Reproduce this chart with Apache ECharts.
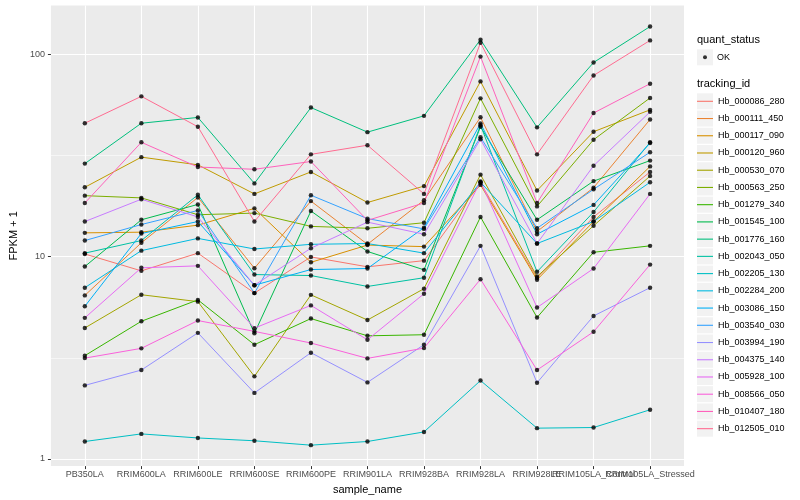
<!DOCTYPE html>
<html><head><meta charset="utf-8">
<script src="https://cdn.jsdelivr.net/npm/echarts@6/dist/echarts.min.js"></script>
<style>html,body{margin:0;padding:0;background:#fff}#c{width:800px;height:500px}</style>
</head><body><div id="c"></div>
<script>
// ---- data ----
const samples = ['PB350LA','RRIM600LA','RRIM600LE','RRIM600SE','RRIM600PE','RRIM901LA','RRIM928BA','RRIM928LA','RRIM928LE','RRIM105LA_Control','RRIM105LA_Stressed'];
const trackingIds = ['Hb_000086_280','Hb_000111_450','Hb_000117_090','Hb_000120_960','Hb_000530_070','Hb_000563_250','Hb_001279_340','Hb_001545_100','Hb_001776_160','Hb_002043_050','Hb_002205_130','Hb_002284_200','Hb_003086_150','Hb_003540_030','Hb_003994_190','Hb_004375_140','Hb_005928_100','Hb_008566_050','Hb_010407_180','Hb_012505_010'];
const quantStatus = ['OK'];
const yTickValues = [1, 10, 100];

const hb_000086_280 = [10.3, 8.50, 10.4, 6.60, 9.96, 8.90, 9.55, 23.1, 7.84, 15.7, 26.2];
const hb_000111_450 = [6.43, 11.7, 19.6, 8.76, 18.8, 11.5, 19.0, 48.8, 13.3, 21.9, 47.6];
const hb_000117_090 = [13.1, 13.2, 14.3, 17.3, 9.37, 11.4, 11.2, 22.6, 7.68, 14.9, 27.9];
const hb_000120_960 = [22.0, 31.0, 28.4, 20.4, 26.2, 18.5, 22.3, 73.4, 21.2, 41.4, 53.1];
const hb_000530_070 = [4.44, 6.48, 5.99, 2.56, 6.47, 4.86, 6.94, 25.4, 7.97, 14.2, 25.0];
const hb_000563_250 = [20.0, 19.5, 16.1, 16.4, 14.1, 13.8, 14.7, 60.5, 17.7, 37.8, 60.8];
const hb_001279_340 = [3.24, 4.79, 6.11, 3.67, 4.94, 4.06, 4.11, 15.7, 5.00, 10.5, 11.3];
const hb_001545_100 = [8.93, 15.2, 18.1, 4.18, 16.8, 10.6, 8.60, 43.8, 15.2, 23.6, 29.8];
const hb_001776_160 = [28.8, 45.6, 48.7, 23.0, 54.5, 41.2, 49.6, 118, 43.5, 91.0, 137];
const hb_002043_050 = [10.4, 12.0, 20.2, 8.15, 8.06, 7.12, 7.86, 44.6, 8.41, 16.6, 36.7];
const hb_002205_130 = [1.22, 1.33, 1.27, 1.23, 1.17, 1.22, 1.36, 2.44, 1.42, 1.43, 1.75];
const hb_002284_200 = [7.02, 10.7, 12.3, 10.9, 11.5, 11.6, 10.4, 23.3, 11.6, 14.9, 23.3];
const hb_003086_150 = [5.68, 13.0, 14.9, 7.22, 8.63, 8.73, 13.9, 45.5, 12.9, 18.0, 36.4];
const hb_003540_030 = [12.0, 14.4, 16.9, 6.60, 20.1, 15.4, 13.7, 38.9, 13.8, 21.5, 32.8];
const hb_003994_190 = [2.31, 2.75, 4.20, 2.12, 3.35, 2.39, 3.67, 11.3, 2.38, 5.09, 7.02];
const hb_004375_140 = [14.9, 19.2, 15.7, 7.22, 11.0, 14.8, 12.9, 38.0, 11.6, 28.1, 51.9];
const hb_005928_100 = [4.98, 8.80, 9.00, 4.43, 5.74, 3.88, 6.55, 23.5, 5.60, 8.73, 20.4];
const hb_008566_050 = [3.15, 3.52, 4.83, 4.27, 3.74, 3.14, 3.53, 7.73, 2.75, 4.25, 9.13];
const hb_010407_180 = [18.4, 36.7, 27.7, 27.0, 29.5, 15.1, 18.4, 97.3, 18.4, 51.2, 71.5];
const hb_012505_010 = [45.6, 61.9, 43.8, 14.9, 32.0, 35.5, 20.4, 114, 32.0, 78.5, 117];

const seriesValues = [hb_000086_280, hb_000111_450, hb_000117_090, hb_000120_960, hb_000530_070, hb_000563_250, hb_001279_340, hb_001545_100, hb_001776_160, hb_002043_050, hb_002205_130, hb_002284_200, hb_003086_150, hb_003540_030, hb_003994_190, hb_004375_140, hb_005928_100, hb_008566_050, hb_010407_180, hb_012505_010];

// ---- style ----
const palette = ['#F8766D','#EA8331','#D89000','#C09B00','#A3A500','#7CAE00','#39B600','#00BB4E','#00BF7D','#00C1A3','#00BFC4','#00BAE0','#00B0F6','#35A2FF','#9590FF','#C77CFF','#E76BF3','#FA62DB','#FF62BC','#FF6C91'];
const FONT = 'Liberation Sans, Arial, Helvetica, sans-serif';

// log10 transform (ggplot scale_y_log10 style)
const lg = v => Math.log10(v);
const allVals = seriesValues.flat();
const lo = lg(Math.min(...allVals)), hi = lg(Math.max(...allVals));
const pad = (hi - lo) * 0.05;
const yMin = lo - pad, yMax = hi + pad;
const X_EXPAND = 0.6;
const xMin = -X_EXPAND, xMax = samples.length - 1 + X_EXPAND;
const xIdx = samples.map((s, i) => i);
// empty-text sentinels at both ends so ECharts' min/max label overlap rule hides nothing
const xLabelValues = [xMin].concat(xIdx, [xMax]);

const lineSeries = trackingIds.map((id, k) => ({
  name: id, type: 'line', silent: true, symbol: 'none',
  data: seriesValues[k].map((v, i) => [i, lg(v)]),
  lineStyle: { width: 1, color: palette[k] },
  itemStyle: { color: palette[k] },
  z: 2
}));
const pointSeries = {
  name: 'OK', type: 'scatter', silent: true, symbol: 'circle', symbolSize: 4.4,
  data: seriesValues.flatMap(arr => arr.map((v, i) => [i, lg(v)])),
  itemStyle: { color: '#000' }, z: 3
};

// legend key backgrounds
const LEG_X = 697, KEY = 16, TRACK_TOP = 93.3, STEP = 17.23, OK_TOP = 49.3;
const keyRects = [{ type: 'rect', shape: { x: LEG_X, y: OK_TOP, width: KEY, height: KEY }, style: { fill: '#F2F2F2' }, z: 0 }]
  .concat(trackingIds.map((id, i) => ({ type: 'rect', shape: { x: LEG_X, y: TRACK_TOP + i * STEP, width: KEY, height: KEY }, style: { fill: '#F2F2F2' }, z: 0 })));

const chart = echarts.init(document.getElementById('c'), null, { renderer: 'canvas' });
chart.setOption({
  animation: false,
  backgroundColor: '#fff',
  textStyle: { fontFamily: FONT },
  title: [
    { text: 'quant_status', left: LEG_X, top: 34, padding: 0, textStyle: { fontSize: 11, fontWeight: 'normal', color: '#000', fontFamily: FONT } },
    { text: 'tracking_id', left: LEG_X, top: 78, padding: 0, textStyle: { fontSize: 11, fontWeight: 'normal', color: '#000', fontFamily: FONT } }
  ],
  grid: { left: 40, right: 116, top: 5.6, bottom: 31.3, show: true, backgroundColor: '#EBEBEB', borderWidth: 0 },
  xAxis: {
    type: 'value', min: xMin, max: xMax, splitNumber: 11, minInterval: 1, maxInterval: 1,
    name: 'sample_name', nameLocation: 'middle', nameGap: 14,
    nameTextStyle: { fontSize: 11, color: '#000', fontFamily: FONT },
    axisLine: { show: false, onZero: false },
    axisTick: { show: true, length: 3, lineStyle: { color: '#333333', width: 1 }, customValues: xIdx },
    axisLabel: { customValues: xLabelValues, formatter: v => { const i = Math.round(v); return (Math.abs(v - i) < 1e-6 && samples[i]) ? samples[i] : ''; },
      fontSize: 9, color: '#4D4D4D', margin: 4, fontFamily: FONT, hideOverlap: false },
    splitLine: { show: true, lineStyle: { color: '#fff', width: 1.1 } }
  },
  yAxis: {
    type: 'value', min: yMin, max: yMax, splitNumber: 2, minInterval: 1, maxInterval: 1,
    name: 'FPKM + 1', nameLocation: 'middle', nameGap: 22,
    nameTextStyle: { fontSize: 11, color: '#000', fontFamily: FONT },
    axisLine: { show: false, onZero: false },
    axisTick: { show: true, length: 3, lineStyle: { color: '#333333', width: 1 }, customValues: yTickValues.map(lg) },
    axisLabel: { customValues: yTickValues.map(lg), formatter: v => String(Math.round(Math.pow(10, v))), fontSize: 9, color: '#4D4D4D', margin: 6, fontFamily: FONT },
    splitLine: { show: true, lineStyle: { color: '#fff', width: 1.1 } },
    minorTick: { show: false, splitNumber: 2 },
    minorSplitLine: { show: true, lineStyle: { color: '#fff', width: 0.55 } }
  },
  legend: [
    { data: quantStatus, orient: 'vertical', left: LEG_X + 6, top: OK_TOP, padding: 0, itemGap: 0,
      icon: 'circle', itemWidth: 4, itemHeight: 4, selectedMode: false,
      textStyle: { fontSize: 9, color: '#000', fontFamily: FONT, lineHeight: 16, padding: [0, 0, 0, 5] } },
    { data: trackingIds, orient: 'vertical', left: LEG_X, top: TRACK_TOP, padding: 0, itemGap: STEP - KEY,
      icon: 'rect', itemWidth: KEY, itemHeight: 1.1, selectedMode: false,
      textStyle: { fontSize: 9, color: '#000', fontFamily: FONT, lineHeight: 16 } }
  ],
  graphic: keyRects,
  series: lineSeries.concat([pointSeries])
});
</script></body></html>
